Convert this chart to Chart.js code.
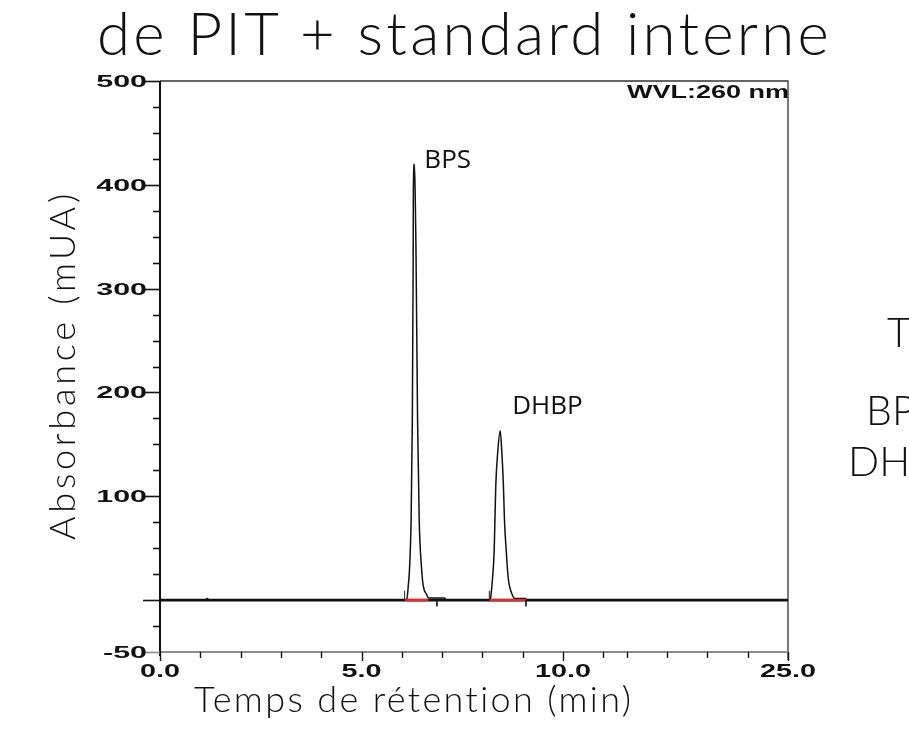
<!DOCTYPE html>
<html>
<head>
<meta charset="utf-8">
<script src="https://cdn.jsdelivr.net/npm/chart.js@4/dist/chart.umd.min.js"></script>
<style>
html, body { margin: 0; padding: 0; background: #fff; width: 909px; height: 731px; overflow: hidden; }
#myChart { position: absolute; left: 0; top: 0; }
.txt { position: absolute; font-family: Lato, "Open Sans", sans-serif; font-weight: 300; color: #111; white-space: nowrap; line-height: 1; }
</style>
</head>
<body>
<canvas id="myChart" width="909" height="731"></canvas>
<div class="txt" id="title">de PIT + standard interne</div>
<div class="txt" id="ytitle">Absorbance (mUA)</div>
<div class="txt" id="xtitle">Temps de rétention (min)</div>
<div class="txt side" id="side1">T</div>
<div class="txt side" id="side2">BP</div>
<div class="txt side" id="side3">DH</div>
<script>
// DATA

// trace (retention time in min, absorbance in mUA)
const traceTimes = [0, 1.12, 1.17, 1.22,
	6.12, 6.16, 6.19, 6.23, 6.26, 6.28, 6.285, 6.31, 6.33, 6.35, 6.39, 6.43, 6.49, 6.53, 6.62, 6.66, 7.07, 7.08,
	8.19, 8.215, 8.25, 8.29, 8.31, 8.33, 8.38, 8.44, 8.48, 8.52, 8.545, 8.59, 8.64, 8.73, 8.81, 9.07, 9.08, 25.0];
const traceValues = [0, 0, 1.5, 0,
	0, 14, 30, 78, 174, 319, 394, 420, 394, 340, 174, 78, 30, 14, 5, 2, 2, 0,
	0, 6, 21, 47, 78, 110, 143, 163, 143, 110, 78, 47, 21, 6, 1.5, 1.5, 0, 0];

// peaks
const peakNames = ["BPS", "DHBP"];
const peakTimes = [6.31, 8.44];
const peakHeights = [420, 163];

// integration baselines (red) and event marks
const baseStarts = [6.08, 8.17];
const baseEnds = [6.66, 9.08];
const markTimes = [6.07, 6.87, 8.17, 9.08];
const markValues = [9, -6, 9, -6];

// axes
const yMajor = [500, 400, 300, 200, 100, 0, -50];
const yTickLabels = ["500", "400", "300", "200", "100", "", "-50"];
const xTickMinutes = [0, 1, 2, 3, 4, 5, 6, 7, 8, 9, 10, 11, 21, 22, 23, 24, 25];
const xMajor = [0, 5, 10, 25];
const xTickLabels = ["0.0", "5.0", "10.0", "25.0"];

// the time axis is cut between about 11.3 and 20.7 min
const breakAt = 11.3;
const breakGap = 9.42;
function toDisplay(t) {
	return t > breakAt ? t - breakGap : t;
}

// DATASETS
const traceData = traceTimes.map((t, i) => ({ x: toDisplay(t), y: traceValues[i] }));
const baselineData = [{ x: 0, y: 0 }, { x: toDisplay(25), y: 0 }];
const redData = [];
baseStarts.forEach((s, i) => {
	redData.push({ x: toDisplay(s), y: 0 }, { x: toDisplay(baseEnds[i]), y: 0 }, { x: toDisplay(baseEnds[i]), y: null });
});
const markData = [];
markTimes.forEach((t, i) => {
	markData.push({ x: toDisplay(t), y: 0 }, { x: toDisplay(t), y: markValues[i] }, { x: toDisplay(t), y: null });
});

// draws stretched text like the instrument printout
function wideText(ctx, text, x, y, sx, align) {
	ctx.save();
	ctx.translate(x, y);
	ctx.scale(sx, 1);
	ctx.textAlign = align;
	ctx.textBaseline = "alphabetic";
	ctx.fillText(text, 0, 0);
	ctx.restore();
}

// FRAME, TICKS, LABELS
const frame = {
	id: "frame",
	beforeDatasetsDraw(chart) {
		const { ctx, chartArea: a, scales: { x, y } } = chart;
		ctx.save();
		ctx.lineCap = "butt";
		// top and right border
		ctx.strokeStyle = "#333";
		ctx.lineWidth = 1.3;
		ctx.beginPath();
		ctx.moveTo(a.left, a.top);
		ctx.lineTo(a.right, a.top);
		ctx.lineTo(a.right, a.bottom + 8);
		ctx.stroke();
		// bottom border (grey)
		ctx.strokeStyle = "#8c8c8c";
		ctx.lineWidth = 2;
		ctx.beginPath();
		ctx.moveTo(a.left, a.bottom);
		ctx.lineTo(a.right, a.bottom);
		ctx.stroke();
		// left axis
		ctx.strokeStyle = "#111";
		ctx.lineWidth = 2;
		ctx.beginPath();
		ctx.moveTo(a.left, a.top);
		ctx.lineTo(a.left, a.bottom + 4);
		ctx.stroke();
		// y ticks
		ctx.lineWidth = 1.6;
		y.ticks.forEach(t => {
			const py = Math.round(y.getPixelForValue(t.value)) + 0.5;
			const len = yMajor.includes(t.value) ? 17 : 7;
			ctx.strokeStyle = t.value === -50 ? "#8c8c8c" : "#111";
			ctx.beginPath();
			ctx.moveTo(a.left - len, py);
			ctx.lineTo(a.left, py);
			ctx.stroke();
		});
		// x ticks
		ctx.strokeStyle = "#111";
		ctx.lineWidth = 1.4;
		x.ticks.forEach(t => {
			const px = Math.round(x.getPixelForValue(t.value)) + 0.5;
			const isMajor = xMajor.some(m => Math.abs(toDisplay(m) - t.value) < 1e-6);
			ctx.beginPath();
			ctx.moveTo(px, a.bottom);
			ctx.lineTo(px, a.bottom + (isMajor ? 9 : 6));
			ctx.stroke();
		});
		ctx.restore();
	},
	afterDraw(chart) {
		const { ctx, chartArea: a, scales: { x, y } } = chart;
		ctx.save();
		ctx.fillStyle = "#111";
		// y labels
		ctx.font = "bold 16px 'Liberation Sans', Arial, sans-serif";
		yMajor.forEach((v, i) => {
			if (!yTickLabels[i]) return;
			wideText(ctx, yTickLabels[i], a.left - 13, y.getPixelForValue(v) + 6, 1.9, "right");
		});
		// x labels
		ctx.font = "bold 18px 'Liberation Sans', Arial, sans-serif";
		xMajor.forEach((m, i) => {
			wideText(ctx, xTickLabels[i], x.getPixelForValue(toDisplay(m)), a.bottom + 25, 1.6, "center");
		});
		// wavelength
		ctx.font = "bold 18px 'Liberation Sans', Arial, sans-serif";
		wideText(ctx, "WVL:260 nm", a.right + 1, a.top + 17, 1.5, "right");
		// peak names
		ctx.font = "26px 'Open Sans', sans-serif";
		const offs = [[10, 4], [12, -17]];
		peakNames.forEach((n, i) => {
			const px = x.getPixelForValue(toDisplay(peakTimes[i]));
			const py = y.getPixelForValue(peakHeights[i]);
			ctx.textAlign = "left";
			ctx.fillText(n, px + offs[i][0], py + offs[i][1]);
		});
		ctx.restore();
	}
};

// CONFIG
const config = {
	type: "line",
	data: {
		datasets: [
			{ label: "baseline", data: baselineData, borderColor: "#111", borderWidth: 2.6, pointRadius: 0, order: 4 },
			{ label: "trace", data: traceData, borderColor: "#111", borderWidth: 1.5, pointRadius: 0, cubicInterpolationMode: "monotone", order: 3 },
			{ label: "integration", data: redData, borderColor: "#ff1f1f", borderWidth: 2.4, pointRadius: 0, spanGaps: false, order: 2 },
			{ label: "marks", data: markData, borderColor: "#222", borderWidth: 1, pointRadius: 0, spanGaps: false, order: 1 },
		],
	},
	options: {
		responsive: false,
		animation: false,
		devicePixelRatio: 1,
		layout: { padding: { left: 160, right: 121, top: 81, bottom: 79 } },
		scales: {
			x: {
				type: "linear",
				min: 0,
				max: toDisplay(25),
				grid: { display: false },
				border: { display: false },
				ticks: { display: false },
				afterBuildTicks: s => { s.ticks = xTickMinutes.map(t => ({ value: toDisplay(t) })); },
				afterFit: s => { s.height = 0; },
			},
			y: {
				type: "linear",
				min: -50,
				max: 500,
				grid: { display: false },
				border: { display: false },
				ticks: { display: false, stepSize: 25 },
				afterFit: s => { s.width = 0; },
			},
		},
		plugins: { legend: { display: false }, tooltip: { enabled: false } },
	},
	plugins: [frame],
};

// RENDER
var myChart = new Chart(document.getElementById("myChart"), config);

// SLIDE TEXT
// put a line of text with its baseline at y, stretched to a given width
function place(id, size, left, base, width) {
	const el = document.getElementById(id);
	el.style.fontSize = size + "px";
	el.style.left = left + "px";
	el.style.top = (base - 0.887 * size) + "px";
	if (width) {
		const n = el.textContent.length;
		const w = el.getBoundingClientRect().width;
		el.style.letterSpacing = ((width - w) / n) + "px";
	}
	return el;
}
place("title", 60, 97, 55, 735);
place("xtitle", 36, 194, 712, 440);
const yt = place("ytitle", 36, 0, 0, 350);
const yw = yt.getBoundingClientRect().width;
yt.style.left = (61 - yw / 2) + "px";
yt.style.top = (365 - 18) + "px";
yt.style.transform = "rotate(-90deg)";
place("side1", 41, 887, 347);
place("side2", 41, 866, 425);
place("side3", 41, 848, 476);
</script>
</body>
</html>
